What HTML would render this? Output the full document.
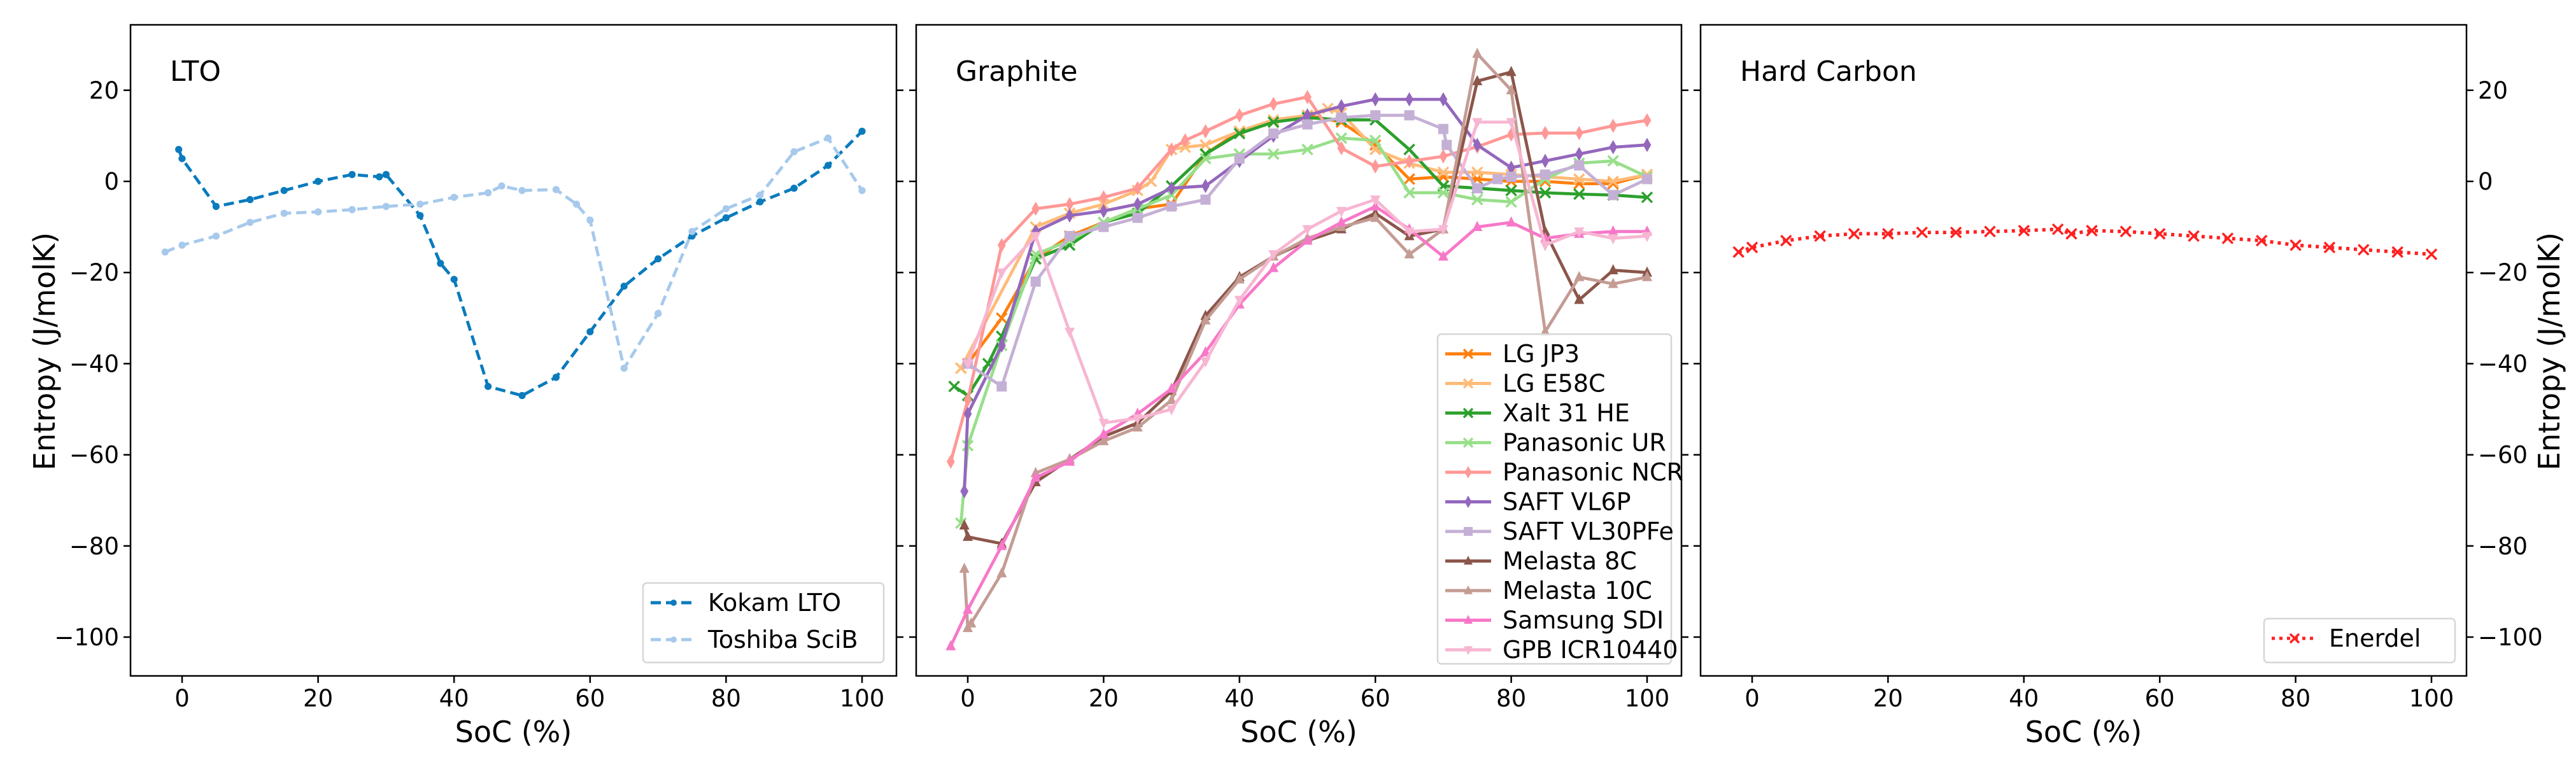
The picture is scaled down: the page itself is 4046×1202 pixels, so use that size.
<!DOCTYPE html>
<html><head><meta charset="utf-8">
<style>
html,body{margin:0;padding:0;background:#fff;}
svg{display:block;font-family:"DejaVu Sans","Liberation Sans",sans-serif;}
</style></head>
<body>
<svg id="chart" width="4046" height="1202" viewBox="0 0 4046 1202" xmlns="http://www.w3.org/2000/svg"></svg>
<script>
// ---- data ----
const yTicks = [20, 0, -20, -40, -60, -80, -100];
const xTicks = [0, 20, 40, 60, 80, 100];
const panelTitles = ["LTO", "Graphite", "Hard Carbon"];

const kokamX = [-0.5,0,5,10,15,20,25,29,30,35,38,40,45,50,55,60,65,70,75,80,85,90,95,100];
const kokamY = [7,5,-5.5,-4,-2,0,1.5,1,1.5,-7.5,-18,-21.5,-45,-47,-43,-33,-23,-17,-12,-8,-4.5,-1.5,3.5,11];
const toshibaX = [-2.5,0,5,10,15,20,25,30,35,40,45,47,50,55,58,60,65,70,75,80,85,90,95,100];
const toshibaY = [-15.5,-14,-12,-9,-7,-6.7,-6.2,-5.5,-5,-3.5,-2.5,-1,-2,-1.8,-5,-8.5,-41,-29,-11,-6,-3,6.5,9.5,-2];

const jp3X = [-1,0,5,10,15,20,25,30,35,40,45,50,55,60,65,70,75,80,85,90,95,100];
const jp3Y = [-41,-40,-30,-17,-12,-9,-6,-5,6,11,13,14.5,13,8,0.5,1,0.5,0,0,-0.5,-0.5,1.5];
const e58X = [-1,10,15,20,25,27,30,32,35,40,45,50,53,55,60,65,70,75,80,85,90,95,100];
const e58Y = [-41,-10,-7,-5,-2,0,7,7.5,8,11,13.5,14.5,16,15,7,4,2,2,1.5,1,0.5,0,1.5];
const xaltX = [-2,0,3,5,10,15,20,25,30,35,40,45,50,55,60,65,70,75,80,85,90,95,100];
const xaltY = [-45,-47,-40,-34,-17,-14,-9,-7,-1,6,10.5,13,14,13.5,13.5,7,-1,-1.5,-2,-2.5,-2.8,-3,-3.5];
const urX = [-1,0,5,10,15,20,25,30,35,40,45,50,55,60,65,70,75,80,85,90,95,100];
const urY = [-75,-58,-36,-16,-13,-9,-6,-3,5,6,6,7,9.5,9,-2.5,-2.5,-4,-4.5,0.5,4,4.5,1];
const ncrX = [-2.5,0,5,10,15,20,25,30,32,35,40,45,50,55,60,65,70,75,80,85,90,95,100];
const ncrY = [-61.5,-48,-14,-6,-5,-3.5,-1.5,7,9,11,14.5,17,18.5,7.3,3.3,4.4,5.5,7.6,10.3,10.6,10.6,12.2,13.4];
const vl6pX = [-0.5,0,5,10,15,20,25,30,35,40,45,50,55,60,65,70,75,80,85,90,95,100];
const vl6pY = [-68,-51,-36,-11,-7.5,-6.5,-5,-1.5,-1,4.5,10,14.5,16.5,18,18,18,8,3,4.5,6,7.5,8];
const vl30X = [0,5,10,15,20,25,30,35,40,45,50,55,60,65,70,70.5,75,78,80,85,90,95,100];
const vl30Y = [-40,-45,-22,-12,-10,-8,-5.5,-4,5,10.5,12.5,14,14.5,14.5,11.5,8,-1.5,0.5,1,1.5,3.5,-3,0.5];
const m8X = [-0.5,0,5,10,15,20,25,30,35,40,45,50,55,60,65,70,75,80,85,90,95,100];
const m8Y = [-75.5,-78,-79.5,-66,-61,-56,-53,-46,-29.5,-21,-16.5,-13,-10.5,-7,-12,-10.5,22,24,-11,-26,-19.5,-20];
const m10X = [-0.5,0,0.5,5,10,15,20,25,30,35,40,45,50,55,60,65,70,75,80,85,90,95,100];
const m10Y = [-85,-98,-97,-86,-64,-61,-57,-54,-48,-30.5,-21.5,-16.5,-12.5,-10,-8,-16,-10.5,28,20,-33,-21,-22.5,-21];
const sdiX = [-2.5,0,5,10,15,20,25,30,35,40,45,50,55,60,65,70,75,80,85,90,95,100];
const sdiY = [-102,-94,-80,-65,-61.5,-55.5,-51,-45.5,-37.5,-27,-19,-13,-9,-5.5,-10.5,-16.5,-10,-9,-12.5,-11.5,-11,-11];
const gpbX = [0,5,10,15,20,25,30,35,40,45,50,55,60,65,70,75,80,85,90,95,100];
const gpbY = [-40,-20,-12,-33,-53,-52,-50,-39.5,-26,-16,-10.5,-6.5,-4,-11,-10.5,13,13,-14,-11,-12.5,-12];

const enerdelX = [-2,0,5,10,15,20,25,30,35,40,45,47,50,55,60,65,70,75,80,85,90,95,100];
const enerdelY = [-15.5,-14.5,-13,-12,-11.5,-11.5,-11.2,-11.2,-11,-10.8,-10.5,-11.5,-10.8,-11,-11.5,-12,-12.5,-13,-14,-14.5,-15,-15.5,-16];

// ---- layout ----
const NS = "http://www.w3.org/2000/svg";
const svg = document.getElementById('chart');
const panels = [
  {left:205, right:1408, x0:286, x100:1354},
  {left:1439, right:2641, x0:1520, x100:2587},
  {left:2671, right:3874, x0:2752, x100:3819}
];
const TOP = 39, BOTTOM = 1062;
function yScale(v){ return 285 + (0 - v) * (143.2/20); }
function xScale(p, v){ return p.x0 + v * (p.x100 - p.x0) / 100; }

function el(tag, attrs, parent){
  const e = document.createElementNS(NS, tag);
  for (const k in attrs) e.setAttribute(k, attrs[k]);
  (parent || svg).appendChild(e);
  return e;
}

function marker(g, type, x, y, color, s){
  let m;
  if (type === 'x'){
    m = el('path', {d:`M${x-s},${y-s}L${x+s},${y+s}M${x-s},${y+s}L${x+s},${y-s}`, stroke:color, 'stroke-width':3.5, fill:'none'}, g);
  } else if (type === 'd'){
    m = el('path', {d:`M${x},${y-s*1.4}L${x+s*0.8},${y}L${x},${y+s*1.4}L${x-s*0.8},${y}Z`, fill:color}, g);
  } else if (type === 's'){
    m = el('rect', {x:x-s, y:y-s, width:2*s, height:2*s, fill:color}, g);
  } else if (type === '^'){
    m = el('path', {d:`M${x},${y-s*1.2}L${x+s},${y+s*0.8}L${x-s},${y+s*0.8}Z`, fill:color}, g);
  } else if (type === 'v'){
    m = el('path', {d:`M${x},${y+s*1.2}L${x+s},${y-s*0.8}L${x-s},${y-s*0.8}Z`, fill:color}, g);
  } else {
    m = el('circle', {cx:x, cy:y, r:s*0.7, fill:color}, g);
  }
  
  
}

function series(p, xs, ys, color, mk, dash, name, lw){
  const g = el('g', {});
  
  
  const pts = xs.map((x,i)=>`${xScale(p,x).toFixed(1)},${yScale(ys[i]).toFixed(1)}`).join(' ');
  const line = el('polyline', {points:pts, fill:'none', stroke:color, 'stroke-width':lw||4.8, 'stroke-linejoin':'round', 'stroke-dasharray':dash||'none'}, g);
  
  
  xs.forEach((x,i)=>marker(g, mk, xScale(p,x), yScale(ys[i]), color, 8));
}

// ---- axes ----
panels.forEach((p, pi) => {
  const ax = el('g', {});
  
  
  const fr = el('rect', {x:p.left, y:TOP, width:p.right-p.left, height:BOTTOM-TOP, fill:'none', stroke:'#000', 'stroke-width':2.5}, ax);
  
  
  xTicks.forEach(t => {
    const x = xScale(p, t);
    el('line', {x1:x, x2:x, y1:BOTTOM, y2:BOTTOM+11, stroke:'#000', 'stroke-width':2.5}, ax);
    const tx = el('text', {x:x, y:BOTTOM+48, 'font-size':37, 'text-anchor':'middle', fill:'#000'}, ax);
    tx.textContent = t;
    
    
  });
  yTicks.forEach(t => {
    const y = yScale(t);
    el('line', {x1:p.left-11, x2:p.left, y1:y, y2:y, stroke:'#000', 'stroke-width':2.5}, ax);
    el('line', {x1:p.right, x2:p.right+11, y1:y, y2:y, stroke:'#000', 'stroke-width':2.5}, ax);
    const lab = t < 0 ? '\u2212' + Math.abs(t) : String(t);
    if (pi === 0){
      const tx = el('text', {x:p.left-18, y:y+13, 'font-size':37, 'text-anchor':'end', fill:'#000'}, ax);
      tx.textContent = lab;
      
      
    }
    if (pi === 2){
      const tx = el('text', {x:p.right+18, y:y+13, 'font-size':37, 'text-anchor':'start', fill:'#000'}, ax);
      tx.textContent = lab;
      
      
    }
  });
  const xl = el('text', {x:(p.left+p.right)/2, y:1166, 'font-size':46, 'text-anchor':'middle', fill:'#000'}, ax);
  xl.textContent = 'SoC (%)';
  
  
  const tt = el('text', {x:p.left + 62, y:127, 'font-size':44, fill:'#000'}, ax);
  tt.textContent = panelTitles[pi];
  
  
});

const yl1 = el('text', {x:0, y:0, 'font-size':46, 'text-anchor':'middle', fill:'#000', transform:'translate(86,552) rotate(-90)'});
yl1.textContent = 'Entropy (J/molK)';


const yl2 = el('text', {x:0, y:0, 'font-size':46, 'text-anchor':'middle', fill:'#000', transform:'translate(4020,552) rotate(-90)'});
yl2.textContent = 'Entropy (J/molK)';



// ---- series ----
const P0 = panels[0], P1 = panels[1], P2 = panels[2];
series(P0, kokamX, kokamY, '#0a7bbd', 'o', '16,8', 'kokam-lto');
series(P0, toshibaX, toshibaY, '#a6c9ec', 'o', '16,8', 'toshiba-scib');

const gSeries = [
  ['LG JP3', jp3X, jp3Y, '#ff7f0e', 'x'],
  ['LG E58C', e58X, e58Y, '#ffbb78', 'x'],
  ['Xalt 31 HE', xaltX, xaltY, '#2ca02c', 'x'],
  ['Panasonic UR', urX, urY, '#98df8a', 'x'],
  ['Panasonic NCR', ncrX, ncrY, '#ff9896', 'd'],
  ['SAFT VL6P', vl6pX, vl6pY, '#9467bd', 'd'],
  ['SAFT VL30PFe', vl30X, vl30Y, '#c5b0d5', 's'],
  ['Melasta 8C', m8X, m8Y, '#8c564b', '^'],
  ['Melasta 10C', m10X, m10Y, '#c49c94', '^'],
  ['Samsung SDI', sdiX, sdiY, '#f778c8', '^'],
  ['GPB ICR10440', gpbX, gpbY, '#f7b6d2', 'v']
];
gSeries.forEach(s => series(P1, s[1], s[2], s[3], s[4], null, s[0].toLowerCase().replace(/ /g,'-')));

series(P2, enerdelX, enerdelY, '#ff2020', 'x', '5,7', 'enerdel', 5.5);

// ---- legends ----
function legend(x, y, w, h, entries, name){
  const g = el('g', {});
  
  
  el('rect', {x:x, y:y, width:w, height:h, rx:6, fill:'#fff', 'fill-opacity':0.85, stroke:'#d6d6d6', 'stroke-width':2.5}, g);
  entries.forEach((e, i) => {
    const cy = y + 31 + i * e.step;
    const eg = el('g', {}, g);
    
    
    el('line', {x1:x+12, x2:x+84, y1:cy, y2:cy, stroke:e.color, 'stroke-width':5, 'stroke-dasharray':e.dash||'none'}, eg);
    marker(eg, e.mk, x+48, cy, e.color, 7);
    const t = el('text', {x:x+102, y:cy+13, 'font-size':38, fill:'#000'}, eg);
    t.textContent = e.label;
  });
}
legend(1010, 916, 378, 125, [
  {label:'Kokam LTO', color:'#0a7bbd', mk:'o', dash:'16,8', step:58},
  {label:'Toshiba SciB', color:'#a6c9ec', mk:'o', dash:'16,8', step:58}
], 'legend-lto');
legend(2258, 525, 367, 518, gSeries.map(s => ({label:s[0], color:s[3], mk:s[4], step:46.5})), 'legend-graphite');
legend(3556, 972, 300, 69, [
  {label:'Enerdel', color:'#ff2020', mk:'x', dash:'5,7', step:0}
], 'legend-hard-carbon');
</script>
</body></html>
